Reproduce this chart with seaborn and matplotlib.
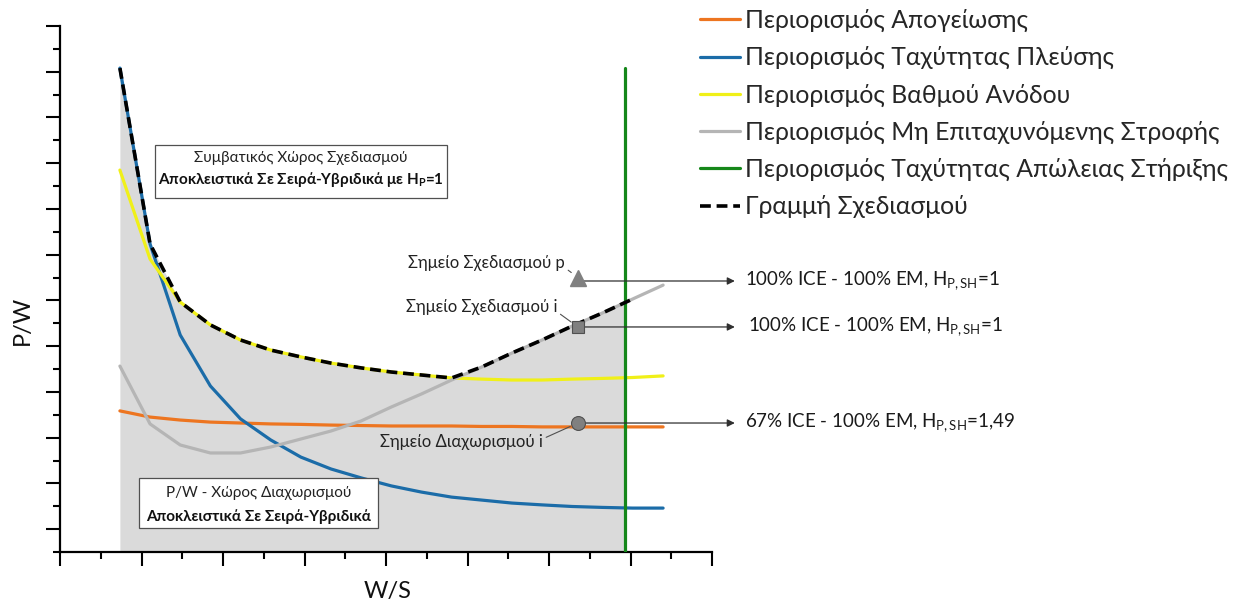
import numpy as np
import pandas as pd
import matplotlib
matplotlib.use("Agg")
import matplotlib.pyplot as plt
from matplotlib.patches import Rectangle
from matplotlib.lines import Line2D
import seaborn as sns

# Wing loading samples (W/S, arbitrary units) and power-loading constraints (P/W)
ws = [1.47, 2.21, 2.95, 3.69, 4.43, 5.17, 5.91, 6.65, 7.39, 8.13,
      8.87, 9.61, 10.35, 11.09, 11.83, 12.57, 13.31, 14.05, 14.80]
takeoff = [6.17, 5.90, 5.77, 5.68, 5.64, 5.60, 5.58, 5.55, 5.53, 5.51,
           5.51, 5.51, 5.49, 5.49, 5.47, 5.47, 5.47, 5.47, 5.47]
cruise = [21.16, 13.47, 9.49, 7.26, 5.82, 4.90, 4.15, 3.63, 3.24, 2.89,
          2.62, 2.40, 2.27, 2.14, 2.06, 1.99, 1.95, 1.92, 1.92]
climb = [16.70, 12.81, 10.93, 9.93, 9.27, 8.83, 8.53, 8.26, 8.05, 7.87,
         7.74, 7.61, 7.56, 7.52, 7.52, 7.56, 7.59, 7.63, 7.70]
turn = [8.13, 5.60, 4.68, 4.33, 4.33, 4.59, 4.94, 5.29, 5.73, 6.34,
        6.91, 7.52, 8.09, 8.70, 9.27, 9.88, 10.45, 11.06, 11.67]
stall_ws = 13.87
stall_pw = [0.0, 21.16]

# Selected points
point_ws = 12.71
design_p_pw = 12.0
design_i_pw = 9.84
split_i_pw = 5.64

labels = ["Περιορισμός Απογείωσης",
          "Περιορισμός Ταχύτητας Πλεύσης",
          "Περιορισμός Βαθμού Ανόδου",
          "Περιορισμός Μη Επιταχυνόμενης Στροφής",
          "Περιορισμός Ταχύτητας Απώλειας Στήριξης",
          "Γραμμή Σχεδιασμού"]
colors = ["#ED7520", "#1B6CA8", "#F0F018", "#B5B5B5", "#15871A", "black"]

sns.set_theme(style="ticks")
FONT = ["Lato", "Open Sans", "DejaVu Sans"]
plt.rcParams["font.family"] = FONT
plt.rcParams["mathtext.fontset"] = "custom"
plt.rcParams["mathtext.rm"] = "Lato"
plt.rcParams["mathtext.bf"] = "Lato:bold"
plt.rcParams["mathtext.it"] = "Lato:italic"

fig = plt.figure(figsize=(12.37, 6.07), dpi=100)
ax = fig.add_axes([60 / 1237, 55 / 607, 652 / 1237, 526 / 607])

df = pd.DataFrame({"ws": ws, "takeoff": takeoff, "cruise": cruise,
                   "climb": climb, "turn": turn})

# design line: upper envelope of the governing constraints up to the stall limit
n_design = sum(1 for w in ws if w <= stall_ws + 0.2)
design = np.maximum(np.maximum(df["cruise"], df["climb"]), df["turn"]).to_numpy()[:n_design]
ws_design = np.array(ws[:n_design])

# shaded feasible region below the design line, bounded by the stall limit
fill = ax.fill_between(ws_design, 0, design, color="#DADADA", lw=0, zorder=1)
clip = Rectangle((ws[0], 0), stall_ws - ws[0], 40, transform=ax.transData)
fill.set_clip_path(clip)

lw = 2.3
for col, c in zip(["takeoff", "cruise", "climb", "turn"], colors[:4]):
    sns.lineplot(data=df, x="ws", y=col, color=c, lw=lw, ax=ax, zorder=3,
                 legend=False)
ax.plot([stall_ws, stall_ws], stall_pw, color=colors[4], lw=lw, zorder=3)
sns.lineplot(x=ws_design, y=design, color="black", lw=2.6, ax=ax, zorder=4,
             legend=False, linestyle=(0, (3, 1.6)))

# text boxes
def two_line_box(x0, x1, y0, y1, ya, yb, top, bottom):
    ax.add_patch(Rectangle((x0, y0), x1 - x0, y1 - y0, facecolor="white",
                           edgecolor="#505050", lw=0.9, zorder=5))
    xc = (x0 + x1) / 2
    ax.text(xc, ya, top, ha="center", va="center", fontsize=11,
            color="#222222", zorder=6)
    ax.text(xc, yb, bottom, ha="center", va="center", fontsize=11,
            fontweight="bold", color="#111111", zorder=6)

two_line_box(2.33, 9.50, 15.48, 17.80, 17.23, 16.27,
             "Συμβατικός Χώρος Σχεδιασμού",
             r"Αποκλειστικά Σε Σειρά-Υβριδικά με H$_{\mathbf{P}}$=1")
two_line_box(1.94, 7.80, 1.05, 3.24, 2.58, 1.57,
             "P/W - Χώρος Διαχωρισμού",
             "Αποκλειστικά Σε Σειρά-Υβριδικά")

# selected points, leaders and arrows
mk_face = "#808080"
mk_edge = "#505050"
ax.plot(point_ws, design_p_pw, marker="^", ms=12, mfc=mk_face, mec=mk_face,
        ls="none", zorder=8)
ax.plot(point_ws, design_i_pw, marker="s", ms=9, mfc=mk_face, mec=mk_edge,
        mew=0.8, ls="none", zorder=8)
ax.plot(point_ws, split_i_pw, marker="o", ms=10, mfc=mk_face, mec=mk_edge,
        mew=0.8, ls="none", zorder=8)

arrow_x = 16.56
text_x = 16.81
notes = [(design_p_pw - 0.15, "100% ICE - 100% EM, H$_{\\mathrm{P,SH}}$=1", 0.0),
         (design_i_pw, "100% ICE - 100% EM, H$_{\\mathrm{P,SH}}$=1", 0.07),
         (split_i_pw, "67% ICE - 100% EM, H$_{\\mathrm{P,SH}}$=1,49", 0.0)]
for y, txt, dx in notes:
    ax.annotate("", xy=(arrow_x, y), xytext=(point_ws, y),
                arrowprops=dict(arrowstyle="-|>", color="#303030", lw=0.9,
                                mutation_scale=11, shrinkA=0, shrinkB=0),
                annotation_clip=False, zorder=7)
    ax.text(text_x + dx, y, txt, ha="left", va="center", fontsize=13.5,
            color="#1a1a1a", clip_on=False)

leaders = [("Σημείο Σχεδιασμού p", 12.39, 12.64, design_p_pw, (1.0, 0.2)),
           ("Σημείο Σχεδιασμού i", 12.20, 10.71, design_i_pw, (1.0, 0.2)),
           ("Σημείο Διαχωρισμού i", 11.85, 4.81, split_i_pw, (1.0, 0.7))]
for txt, tx, ty, py, rp in leaders:
    ax.annotate(txt, xy=(point_ws, py), xytext=(tx, ty), ha="right",
                va="center", fontsize=12, color="#222222", zorder=7,
                arrowprops=dict(arrowstyle="-", color="#505050", lw=0.8,
                                shrinkA=0, shrinkB=6, relpos=rp))

# axes styling
ax.set_xlim(0, 16)
ax.set_ylim(0, 23)
ax.set_xticks(np.arange(0, 17, 2))
ax.set_xticks(np.arange(1, 16, 2), minor=True)
ax.set_yticks(np.arange(1, 24, 2))
ax.set_yticks(np.arange(0, 23, 2), minor=True)
ax.tick_params(which="major", length=10, width=1.5, direction="out",
               labelbottom=False, labelleft=False, color="black")
ax.tick_params(which="minor", length=5, width=1.5, direction="out",
               color="black")
sns.despine(ax=ax)
for s in ("left", "bottom"):
    ax.spines[s].set_linewidth(1.6)
    ax.spines[s].set_color("black")
ax.set_facecolor("white")

ax.set_xlabel("W/S", fontsize=17, color="#111111")
ax.set_ylabel("P/W", fontsize=17, color="#111111")
ax.xaxis.set_label_coords(0.502, -0.076)
ax.xaxis.label.set_va("center")
ax.yaxis.set_label_coords(-0.058, 0.44)
ax.yaxis.label.set_va("center")

# legend outside the plot area
handles = [Line2D([], [], color=c, lw=lw) for c in colors[:5]]
handles.append(Line2D([], [], color="black", lw=2.6, linestyle=(0, (3, 1.6))))
fig.legend(handles, labels, loc="upper left",
           bbox_to_anchor=(700 / 1237, 1 - 9 / 607), frameon=False,
           fontsize=17.8, handlelength=1.62, handletextpad=0.2,
           labelspacing=0.57, borderpad=0, borderaxespad=0)

fig.savefig("out.png", dpi=100, facecolor="white")
